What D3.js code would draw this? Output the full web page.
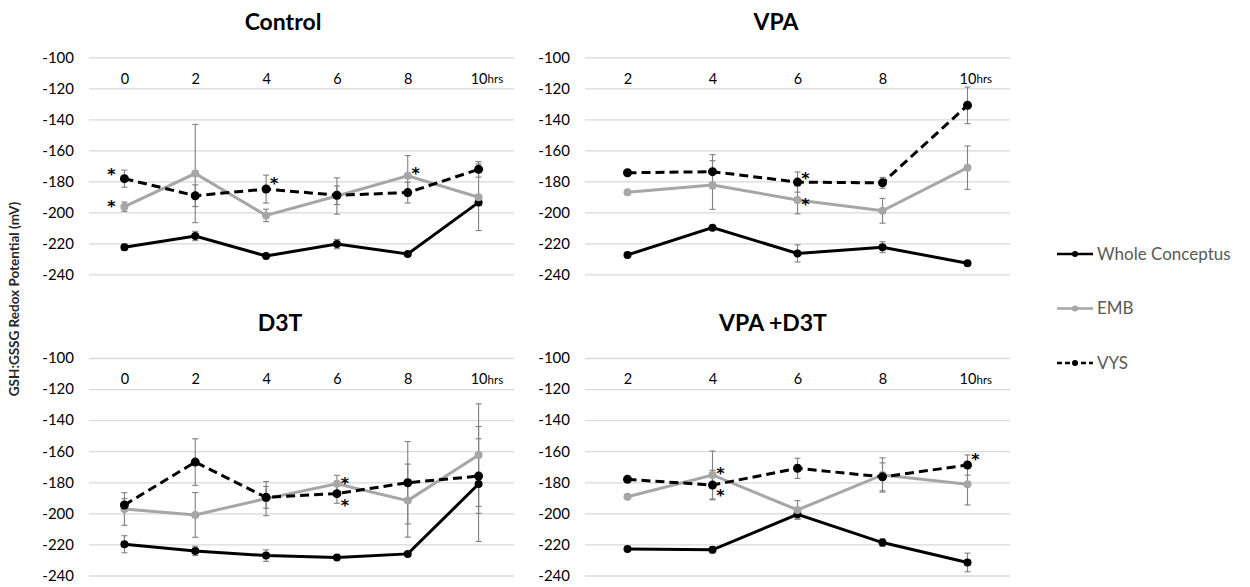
<!DOCTYPE html>
<html>
<head>
<meta charset="utf-8">
<script src="https://cdn.jsdelivr.net/npm/d3@7"></script>
<style>
  body { margin: 0; background: #fff; }
  text { font-family: Lato, "Open Sans", sans-serif; }
</style>
</head>
<body>
<script>
// data
var seriesNames = ["Whole Conceptus", "EMB", "VYS"];
var panelNames = ["Control", "VPA", "D3T", "VPA +D3T"];
var hoursLong = [0, 2, 4, 6, 8, 10];
var hoursShort = [2, 4, 6, 8, 10];
var yTicks = [-100, -120, -140, -160, -180, -200, -220, -240];

var ctrlWC = [-222.5, -215.3, -228.2, -220.5, -226.9, -193.6];
var ctrlWCErr = [2, 3, 1, 3, 1, 2];
var ctrlEMB = [-196.4, -175, -202, -189.5, -176.4, -190.3];
var ctrlEMBErr = [3, 31.7, 4, 11.7, 13, 21.5];
var ctrlVYS = [-178.3, -189.3, -185, -189, -187.3, -172.3];
var ctrlVYSErr = [5.5, 7, 9, 6, 6.7, 5];

var vpaWC = [-227.5, -209.9, -226.5, -222.5, -232.9];
var vpaWCErr = [1, 1, 5.5, 3.5, 1];
var vpaEMB = [-187, -182.4, -192, -199, -171.2];
var vpaEMBErr = [1, 15.7, 9, 8, 14];
var vpaVYS = [-174.5, -173.8, -180.5, -181, -131];
var vpaVYSErr = [1, 11, 6.5, 3.5, 11.8];

var d3tWC = [-219.9, -224.2, -227.2, -228.4, -226.1, -181.1];
var d3tWCErr = [5.5, 3, 3.7, 1, 1, 37];
var d3tEMB = [-197.2, -201, -190.5, -181, -191.8, -162.5];
var d3tEMBErr = [10.5, 14.4, 11, 5.5, 23.5, 33];
var d3tVYS = [-194.6, -167, -189.7, -187.3, -180.3, -176];
var d3tVYSErr = [4, 15, 7, 6.2, 26.5, 24];

var vdWC = [-222.9, -223.5, -200.6, -218.8, -231.6];
var vdWCErr = [1, 2, 3, 2.5, 6];
var vdEMB = [-189.3, -175.3, -197.8, -175.3, -181.3];
var vdEMBErr = [1, 15.4, 6, 11, 13.3];
var vdVYS = [-178.1, -181.8, -171, -176.5, -168.9];
var vdVYSErr = [1, 9.5, 6.5, 9, 6.5];

// significance stars: panel, hour, value
var stars = [
  ["Control", 0, -173], ["Control", 0, -193.6], ["Control", 4, -178.5], ["Control", 8, -172],
  ["VPA", 6, -175.3], ["VPA", 6, -192.5],
  ["D3T", 6, -178], ["D3T", 6, -192.5],
  ["VPA +D3T", 4, -172], ["VPA +D3T", 4, -186], ["VPA +D3T", 10, -162.5]
];

var W = 1250, H = 587;
var plotW = 425;
var styles = [
  { stroke: "#000", dash: null, r: 4, legendDash: null },
  { stroke: "#a6a6a6", dash: null, r: 4, legendDash: null },
  { stroke: "#000", dash: "9,5", r: 4.5, legendDash: "5,3" }
];

// where each panel sits
var layout = [
  { x0: 89, top: 57.3, bot: 274.3, titleX: 283, titleY: 30 },
  { x0: 585, top: 57.3, bot: 274.3, titleX: 776, titleY: 30 },
  { x0: 89, top: 358, bot: 575.5, titleX: 280, titleY: 331 },
  { x0: 585, top: 358, bot: 575.5, titleX: 773, titleY: 331 }
];

var panelData = [
  { hours: hoursLong, means: [ctrlWC, ctrlEMB, ctrlVYS], errs: [ctrlWCErr, ctrlEMBErr, ctrlVYSErr] },
  { hours: hoursShort, means: [vpaWC, vpaEMB, vpaVYS], errs: [vpaWCErr, vpaEMBErr, vpaVYSErr] },
  { hours: hoursLong, means: [d3tWC, d3tEMB, d3tVYS], errs: [d3tWCErr, d3tEMBErr, d3tVYSErr] },
  { hours: hoursShort, means: [vdWC, vdEMB, vdVYS], errs: [vdWCErr, vdEMBErr, vdVYSErr] }
];

var svg = d3.select("body").append("svg")
  .attr("width", W)
  .attr("height", H);

panelNames.forEach(function (name, p) {
  var L = layout[p];
  var pd = panelData[p];
  var g = svg.append("g").attr("class", "panel");

  var x = d3.scalePoint().domain(pd.hours).range([L.x0, L.x0 + plotW]).padding(0.5);
  var y = d3.scaleLinear().domain([-240, -100]).range([L.bot, L.top]);

  // gridlines + y labels
  g.append("g")
    .attr("transform", `translate(${L.x0},0)`)
    .call(d3.axisLeft(y).tickValues(yTicks).tickSize(-plotW).tickPadding(15).tickFormat(d => String(d)))
    .call(a => {
      a.select(".domain").remove();
      a.selectAll("line").attr("stroke", "#d9d9d9").attr("stroke-width", 1.3);
      a.selectAll("text").attr("fill", "#000").style("font-size", "15px");
    });

  // hour labels sit near the top
  g.append("g")
    .attr("transform", `translate(0,${L.top + 16})`)
    .call(d3.axisBottom(x).tickSize(0).tickPadding(0))
    .call(a => {
      a.select(".domain").remove();
      a.selectAll("text").attr("fill", "#000").style("font-size", "14.5px");
    });
  var last = pd.hours[pd.hours.length - 1];
  g.append("text")
    .attr("x", x(last) + 9)
    .attr("y", L.top + 26)
    .style("font-size", "11.5px")
    .attr("fill", "#000")
    .text("hrs");

  // title
  g.append("text")
    .attr("x", L.titleX)
    .attr("y", L.titleY)
    .attr("text-anchor", "middle")
    .style("font-size", "23px")
    .style("font-weight", "bold")
    .attr("fill", "#000")
    .text(name);

  // error bars
  pd.means.forEach(function (m, s) {
    var bars = g.append("g").selectAll("g")
      .data(pd.hours.map((h, i) => ({ h: h, v: m[i], e: pd.errs[s][i] })))
      .enter().append("g")
      .attr("stroke", "#7f7f7f")
      .attr("stroke-width", 1.1);
    bars.append("line")
      .attr("x1", d => x(d.h)).attr("x2", d => x(d.h))
      .attr("y1", d => y(d.v + d.e)).attr("y2", d => y(d.v - d.e));
    bars.append("line")
      .attr("x1", d => x(d.h) - 3).attr("x2", d => x(d.h) + 3)
      .attr("y1", d => y(d.v + d.e)).attr("y2", d => y(d.v + d.e));
    bars.append("line")
      .attr("x1", d => x(d.h) - 3).attr("x2", d => x(d.h) + 3)
      .attr("y1", d => y(d.v - d.e)).attr("y2", d => y(d.v - d.e));
  });

  // lines and markers
  var line = d3.line().x(d => x(d.h)).y(d => y(d.v));
  pd.means.forEach(function (m, s) {
    var pts = pd.hours.map((h, i) => ({ h: h, v: m[i] }));
    g.append("path")
      .datum(pts)
      .attr("fill", "none")
      .attr("stroke", styles[s].stroke)
      .attr("stroke-width", 3)
      .attr("stroke-dasharray", styles[s].dash)
      .attr("d", line);
    g.selectAll(null)
      .data(pts)
      .enter().append("circle")
      .attr("cx", d => x(d.h))
      .attr("cy", d => y(d.v))
      .attr("r", styles[s].r)
      .attr("fill", styles[s].stroke);
  });

  // stars
  g.selectAll(null)
    .data(stars.filter(d => d[0] === name))
    .enter().append("text")
    .attr("x", d => x(d[1]) + (d[1] === 0 ? -13 : 8))
    .attr("y", d => y(d[2]))
    .attr("dy", "0.6em")
    .attr("text-anchor", "middle")
    .style("font-family", "'DejaVu Sans', sans-serif")
    .style("font-size", "16px")
    .style("font-weight", "bold")
    .attr("fill", "#000")
    .text("*");
});

// y axis title
svg.append("text")
  .attr("transform", "translate(19,299) rotate(-90)")
  .attr("text-anchor", "middle")
  .style("font-size", "13.5px")
  .style("font-weight", "bold")
  .attr("fill", "#262626")
  .text("GSH:GSSG Redox Potential (mV)");

// legend
var legend = svg.append("g").attr("transform", "translate(1057,254)");
var item = legend.selectAll("g")
  .data(seriesNames)
  .enter().append("g")
  .attr("transform", (d, i) => `translate(0,${i * 54.5})`);
item.append("line")
  .attr("x1", 0).attr("x2", 36)
  .attr("stroke", (d, i) => styles[i].stroke)
  .attr("stroke-width", 2.5)
  .attr("stroke-dasharray", (d, i) => styles[i].legendDash);
item.append("circle")
  .attr("cx", 18).attr("r", 3)
  .attr("fill", (d, i) => styles[i].stroke);
item.append("text")
  .attr("x", 40)
  .attr("dy", "0.35em")
  .style("font-size", "17px")
  .attr("fill", "#595959")
  .text(d => d);
</script>
</body>
</html>
